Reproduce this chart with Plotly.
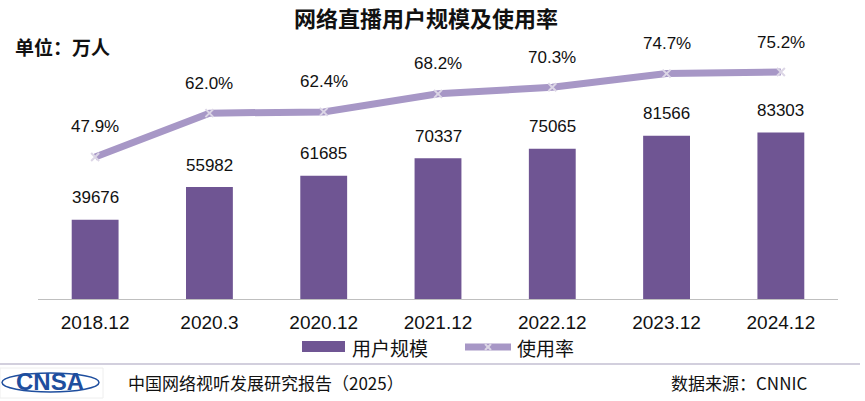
import plotly.graph_objects as go

categories = ["2018.12", "2020.3", "2020.12", "2021.12", "2022.12", "2023.12", "2024.12"]
users = [39676, 55982, 61685, 70337, 75065, 81566, 83303]
usage_rate = [47.9, 62.0, 62.4, 68.2, 70.3, 74.7, 75.2]

BAR_COLOR = "#6F5593"
LINE_COLOR = "#A797C6"
FONT = "Liberation Sans, Arial, Noto Sans CJK SC, sans-serif"
CJK = "Noto Sans CJK SC, sans-serif"

# plot-area geometry (pixels)
L, R, T, B = 38, 838, 59, 299
W, H = R - L, B - T

xpos = list(range(len(categories)))

fig = go.Figure()
fig.add_trace(go.Bar(
    x=xpos, y=users, name="用户规模",
    marker=dict(color=BAR_COLOR, line=dict(width=0)),
    yaxis="y", showlegend=False,
))
fig.add_trace(go.Scatter(
    x=xpos, y=usage_rate, name="使用率",
    mode="lines+markers",
    line=dict(color=LINE_COLOR, width=7),
    marker=dict(symbol="x-thin", size=8, color="#DCD6E6",
                line=dict(color="#DCD6E6", width=2)),
    yaxis="y2", showlegend=False,
))

annotations = []
for i, v in zip(xpos, users):
    annotations.append(dict(x=i, y=v, xref="x", yref="y", text=str(v),
                            showarrow=False, yshift=22, yanchor="middle",
                            font=dict(family=FONT, size=17, color="#111111")))
for i, v in zip(xpos, usage_rate):
    annotations.append(dict(x=i, y=v, xref="x", yref="y2", text=f"{v:.1f}%",
                            showarrow=False, yshift=30, yanchor="middle",
                            font=dict(family=FONT, size=17, color="#111111")))


def px(x):
    return (x - L) / W


def py(y):
    return (B - y) / H


def pix(x, y, text, size, color="#111111", anchor="left", bold=False, family=CJK):
    return dict(text=(f"<b>{text}</b>" if bold else text), x=px(x), y=py(y),
                xref="paper", yref="paper", showarrow=False,
                xanchor=anchor, yanchor="middle",
                font=dict(family=family, size=size, color=color))


annotations.append(pix(426, 17, "网络直播用户规模及使用率", 22, anchor="center", bold=True))
annotations.append(pix(13, 47, "单位：万人", 19, bold=True))
annotations.append(pix(350, 347, "用户规模", 19))
annotations.append(pix(515, 347, "使用率", 19))
annotations.append(pix(126, 382, "中国网络视听发展研究报告（2025）", 17))
annotations.append(pix(809, 382, "数据来源：CNNIC", 17, anchor="right"))
annotations.append(pix(50, 381, "CNSA", 24, color="#1E4E9E", anchor="center", bold=True,
                       family="Liberation Sans Narrow, Liberation Sans, Arial"))

shapes = [
    # separator line
    dict(type="line", xref="paper", yref="paper", x0=px(0), x1=px(860),
         y0=py(364), y1=py(364), line=dict(color="#C3BFD2", width=1.5)),
    # logo box
    dict(type="rect", xref="paper", yref="paper", x0=px(0), x1=px(103),
         y0=py(368), y1=py(398), line=dict(color="#EEEEEE", width=1), fillcolor="white",
         layer="below"),
    # logo ellipse
    dict(type="circle", xref="paper", yref="paper", x0=px(2), x1=px(99),
         y0=py(373), y1=py(392), line=dict(color="#1E4E9E", width=1.5),
         fillcolor="rgba(0,0,0,0)", layer="below"),
    # legend swatches
    dict(type="rect", xref="paper", yref="paper", x0=px(302), x1=px(345),
         y0=py(341), y1=py(352), line=dict(width=0), fillcolor=BAR_COLOR),
    dict(type="line", xref="paper", yref="paper", x0=px(465), x1=px(511),
         y0=py(347), y1=py(347), line=dict(color=LINE_COLOR, width=7)),
    dict(type="line", xref="paper", yref="paper", x0=px(485), x1=px(491),
         y0=py(344), y1=py(350), line=dict(color="#DCD6E6", width=2)),
    dict(type="line", xref="paper", yref="paper", x0=px(485), x1=px(491),
         y0=py(350), y1=py(344), line=dict(color="#DCD6E6", width=2)),
]

fig.update_layout(
    width=865, height=401,
    margin=dict(l=L, r=865 - R, t=T, b=401 - B),
    paper_bgcolor="white", plot_bgcolor="white",
    bargap=0.59,
    showlegend=False,
    xaxis=dict(range=[-0.5, len(categories) - 0.5], tickmode="array",
               tickvals=xpos, ticktext=categories,
               showline=True, linecolor="#BFBFBF", linewidth=1, ticks="",
               ticklabelstandoff=6,
               tickfont=dict(family=FONT, size=19, color="#111111"), showgrid=False,
               zeroline=False),
    yaxis=dict(range=[0, 120000], visible=False, showgrid=False, zeroline=False),
    yaxis2=dict(range=[2.25, 79.4], overlaying="y", side="right", visible=False,
                showgrid=False, zeroline=False),
    annotations=annotations,
    shapes=shapes,
    font=dict(family=FONT),
)

fig.write_html("out.html", config={"displayModeBar": False},
               post_script="document.body.style.margin='0px';document.body.style.padding='0px';")
